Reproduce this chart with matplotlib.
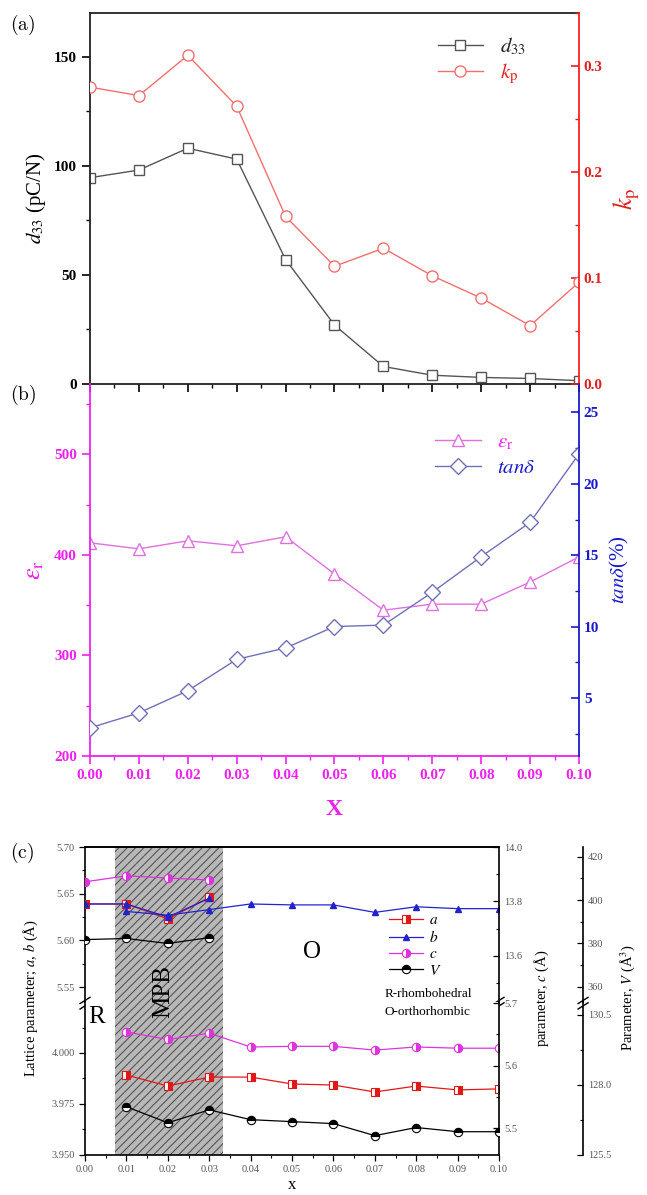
import matplotlib
matplotlib.use('Agg')
import matplotlib.pyplot as plt
from matplotlib.ticker import MultipleLocator, FixedLocator, FormatStrFormatter

plt.rcParams['font.family'] = ['Liberation Serif', 'DejaVu Serif']
plt.rcParams['mathtext.fontset'] = 'stix'
plt.rcParams['hatch.linewidth'] = 0.8

# ---- data ----
x = [0.00, 0.01, 0.02, 0.03, 0.04, 0.05, 0.06, 0.07, 0.08, 0.09, 0.10]
d33 = [94.5, 98, 108, 103, 57, 27, 8, 4, 3, 2.5, 1.5]
kp = [0.280, 0.272, 0.310, 0.262, 0.158, 0.111, 0.128, 0.102, 0.081, 0.055, 0.096]
eps_r = [412, 406, 414, 409, 418, 381, 345, 351, 351, 373, 398]
tan_d = [2.9, 3.95, 5.5, 7.7, 8.5, 10.0, 10.1, 12.4, 14.9, 17.3, 22.1]

# lattice parameters, R phase (upper part) and O phase (lower part)
x_R = [0.00, 0.01, 0.02, 0.03]
a_R = [5.639, 5.639, 5.623, 5.646]
b_R = [5.639, 5.639, 5.625, 5.645]
c_R = [13.872, 13.894, 13.886, 13.879]
V_R = [381.8, 382.3, 380.0, 382.7]

x_O = [0.01, 0.02, 0.03, 0.04, 0.05, 0.06, 0.07, 0.08, 0.09, 0.10]
a_O = [3.9892, 3.9838, 3.9882, 3.9882, 3.9848, 3.9843, 3.9809, 3.9838, 3.9819, 3.9824]
b_O = [5.631, 5.627, 5.633, 5.639, 5.638, 5.638, 5.630, 5.636, 5.634, 5.634]
c_O = [5.654, 5.642, 5.652, 5.630, 5.631, 5.631, 5.625, 5.630, 5.628, 5.628]
V_O = [127.22, 126.65, 127.11, 126.76, 126.69, 126.62, 126.19, 126.48, 126.33, 126.33]

mpb = (0.0072, 0.0333)

fig = plt.figure(figsize=(6.47, 11.95), dpi=100)

# ---------------- panel (a) ----------------
ax_a = fig.add_axes([0.1391, 0.6787, 0.7558, 0.3105])
ax_k = ax_a.twinx()
l1, = ax_a.plot(x, d33, '-s', color='#555555', mfc='white', ms=7, lw=1, label='$d_{33}$')
l2, = ax_k.plot(x, kp, '-o', color='#f07070', mfc='white', ms=8, lw=1, label='$k_\\mathrm{p}$')
ax_a.set_xlim(0, 0.10)
ax_a.set_ylim(0, 170)
ax_k.set_ylim(0, 0.35)
ax_a.xaxis.set_major_locator(MultipleLocator(0.01))
ax_a.xaxis.set_minor_locator(MultipleLocator(0.005))
ax_a.yaxis.set_major_locator(MultipleLocator(50))
ax_a.yaxis.set_minor_locator(MultipleLocator(25))
ax_k.yaxis.set_major_locator(MultipleLocator(0.1))
ax_k.yaxis.set_minor_locator(MultipleLocator(0.05))
ax_a.tick_params(axis='x', labelbottom=False, direction='out', length=6, width=1.2)
ax_a.tick_params(axis='x', which='minor', direction='out', length=3, width=1)
ax_a.tick_params(axis='y', which='major', direction='out', length=6, width=1.2, labelsize=11)
ax_a.tick_params(axis='y', which='minor', direction='out', length=3, width=1)
ax_k.tick_params(axis='y', which='major', direction='in', length=6, width=1.2, labelsize=11,
                 colors='#e02020')
ax_k.tick_params(axis='y', which='minor', direction='in', length=3, width=1, colors='#e02020')
for lab in ax_a.get_yticklabels() + ax_k.get_yticklabels():
    lab.set_fontweight('bold')
ax_a.spines['right'].set_visible(False)
for s in ['left', 'top', 'bottom']:
    ax_a.spines[s].set_linewidth(1.3)
    ax_a.spines[s].set_color('#222222')
ax_k.spines['right'].set_color('#ff2020')
ax_k.spines['right'].set_linewidth(1.3)
ax_k.spines['left'].set_visible(False)
ax_k.spines['top'].set_visible(False)
ax_k.spines['bottom'].set_visible(False)
ax_a.set_ylabel('$d_{33}$ (pC/N)', fontsize=15, labelpad=4)
ax_k.set_ylabel('$k_\\mathrm{p}$', fontsize=19, color='#e02020', labelpad=6)
leg = ax_a.legend(handles=[l1, l2], loc='upper right', bbox_to_anchor=(0.93, 0.99),
                  frameon=False, fontsize=15, handlelength=2.2, labelspacing=0.25)
for t, c in zip(leg.get_texts(), ['#222222', '#e02020']):
    t.set_color(c)
fig.text(0.015, 0.975, '$\\mathrm{(a)}$', fontsize=14, math_fontfamily='cm')

# ---------------- panel (b) ----------------
ax_b = fig.add_axes([0.1391, 0.3674, 0.7558, 0.3113])
ax_b.patch.set_visible(False)
ax_t = ax_b.twinx()
mag = '#ee22ee'
blu = '#1a1acc'
l3, = ax_b.plot(x, eps_r, '-^', color='#e070e0', mfc='white', ms=9, lw=1,
                label='$\\varepsilon_\\mathrm{r}$')
l4, = ax_t.plot(x, tan_d, '-D', color='#7070b8', mfc='white', ms=8, lw=1,
                label='$tan\\delta$')
ax_b.set_xlim(0, 0.10)
ax_b.set_ylim(200, 570)
ax_t.set_ylim(0.93, 27.0)
ax_b.xaxis.set_major_locator(MultipleLocator(0.01))
ax_b.xaxis.set_minor_locator(MultipleLocator(0.005))
ax_b.xaxis.set_major_formatter(FormatStrFormatter('%.2f'))
ax_b.yaxis.set_major_locator(MultipleLocator(100))
ax_b.yaxis.set_minor_locator(MultipleLocator(50))
ax_t.yaxis.set_major_locator(MultipleLocator(5))
ax_t.yaxis.set_minor_locator(MultipleLocator(2.5))
ax_b.tick_params(axis='both', which='major', direction='out', length=6, width=1.2,
                 labelsize=11, colors=mag)
ax_b.tick_params(axis='both', which='minor', direction='out', length=3, width=1, colors=mag)
ax_t.tick_params(axis='y', which='major', direction='in', length=6, width=1.2,
                 labelsize=11, colors=blu)
ax_t.tick_params(axis='y', which='minor', direction='in', length=3, width=1, colors=blu)
for lab in ax_b.get_yticklabels() + ax_b.get_xticklabels() + ax_t.get_yticklabels():
    lab.set_fontweight('bold')
ax_b.spines['top'].set_visible(False)
ax_b.spines['right'].set_visible(False)
ax_b.spines['left'].set_color(mag)
ax_b.spines['bottom'].set_color(mag)
ax_b.spines['left'].set_linewidth(1.3)
ax_b.spines['bottom'].set_linewidth(1.3)
for s in ['left', 'top', 'bottom']:
    ax_t.spines[s].set_visible(False)
ax_t.spines['right'].set_color(blu)
ax_t.spines['right'].set_linewidth(1.3)
ax_b.set_ylabel('$\\varepsilon_\\mathrm{r}$', fontsize=19, color=mag, labelpad=6)
ax_t.set_ylabel('$tan\\delta$(%)', fontsize=15, color=blu, labelpad=6)
ax_b.set_xlabel('X', fontsize=17, color=mag, fontweight='bold', labelpad=12)
leg = ax_b.legend(handles=[l3, l4], loc='upper right', bbox_to_anchor=(0.95, 0.92),
                  frameon=False, fontsize=15, handlelength=2.2, labelspacing=0.3)
for t, c in zip(leg.get_texts(), [mag, blu]):
    t.set_color(c)
fig.text(0.015, 0.665, '$\\mathrm{(b)}$', fontsize=14, math_fontfamily='cm')

# ---------------- panel (c) ----------------
ax_u = fig.add_axes([0.1314, 0.1615, 0.6399, 0.1297])
ax_l = fig.add_axes([0.1314, 0.0335, 0.6399, 0.1280])
ax_uc = ax_u.twinx()
ax_uV = ax_u.twinx()
ax_lc = ax_l.twinx()
ax_lV = ax_l.twinx()

for ax in (ax_u, ax_l):
    ax.axvspan(mpb[0], mpb[1], facecolor='#b8b8b8', edgecolor='#555555', hatch='////',
               lw=0, zorder=0)
    ax.set_xlim(0, 0.10)
    ax.xaxis.set_major_locator(MultipleLocator(0.01))
    ax.xaxis.set_minor_locator(MultipleLocator(0.005))

red = '#e01818'
blue3 = '#2222cc'
mag3 = '#dd33dd'
kw = dict(lw=0.9, ms=6, markeredgewidth=0.8)
ha, = ax_u.plot(x_R, a_R, '-s', color=red, mfc=red, mfcalt='white', fillstyle='right',
                label='$a$', zorder=3, **kw)
ax_u.plot(x_R, b_R, '-^', color=blue3, mfc=blue3, ms=4, lw=0.9, zorder=3)
hb, = ax_u.plot(x_O, b_O, '-^', color=blue3, mfc=blue3, ms=4, lw=0.9, label='$b$', zorder=3)
hc, = ax_uc.plot(x_R, c_R, '-o', color=mag3, mfc=mag3, mfcalt='white', fillstyle='right',
                 label='$c$', **kw)
hV, = ax_uV.plot(x_R, V_R, '-o', color='black', mfc='black', mfcalt='white',
                 fillstyle='top', label='$V$', **kw)
ax_l.plot(x_O, a_O, '-s', color=red, mfc=red, mfcalt='white', fillstyle='right',
          zorder=3, **kw)
ax_lc.plot(x_O, c_O, '-o', color=mag3, mfc=mag3, mfcalt='white', fillstyle='right', **kw)
ax_lV.plot(x_O, V_O, '-o', color='black', mfc='black', mfcalt='white', fillstyle='top', **kw)

ax_u.set_ylim(5.534, 5.70)
ax_uc.set_ylim(13.43, 14.0)
ax_uV.set_ylim(353, 424.5)
ax_l.set_ylim(3.950, 4.025)
ax_lc.set_ylim(5.457, 5.702)
ax_lV.set_ylim(125.5, 130.96)

ax_u.yaxis.set_major_locator(MultipleLocator(0.05))
ax_u.yaxis.set_minor_locator(MultipleLocator(0.025))
ax_u.yaxis.set_major_formatter(FormatStrFormatter('%.2f'))
ax_l.yaxis.set_major_locator(FixedLocator([3.950, 3.975, 4.000]))
ax_l.yaxis.set_minor_locator(FixedLocator([3.9625, 3.9875, 4.0125]))
ax_l.yaxis.set_major_formatter(FormatStrFormatter('%.3f'))
ax_l.xaxis.set_major_formatter(FormatStrFormatter('%.2f'))
ax_uc.yaxis.set_major_locator(MultipleLocator(0.2))
ax_uc.yaxis.set_minor_locator(MultipleLocator(0.1))
ax_uc.yaxis.set_major_formatter(FormatStrFormatter('%.1f'))
ax_lc.yaxis.set_major_locator(MultipleLocator(0.1))
ax_lc.yaxis.set_minor_locator(MultipleLocator(0.05))
ax_lc.yaxis.set_major_formatter(FormatStrFormatter('%.1f'))
ax_uV.yaxis.set_major_locator(MultipleLocator(20))
ax_uV.yaxis.set_minor_locator(MultipleLocator(10))
ax_lV.yaxis.set_major_locator(FixedLocator([125.5, 128.0, 130.5]))
ax_lV.yaxis.set_minor_locator(FixedLocator([126.75, 129.25]))
ax_lV.yaxis.set_major_formatter(FormatStrFormatter('%.1f'))

tcol = '#555555'
for ax in (ax_u, ax_l):
    ax.tick_params(which='major', direction='out', length=4, width=0.9, labelsize=7.5,
                   labelcolor=tcol)
    ax.tick_params(which='minor', direction='out', length=2, width=0.8)
ax_u.tick_params(axis='x', which='both', bottom=False, labelbottom=False)
for ax in (ax_uc, ax_lc, ax_uV, ax_lV):
    ax.tick_params(which='major', direction='in', length=4, width=0.9, labelsize=7.5,
                   labelcolor=tcol)
    ax.tick_params(which='minor', direction='in', length=2, width=0.8)

ax_u.spines['bottom'].set_visible(False)
ax_l.spines['top'].set_visible(False)
for ax in (ax_uc, ax_lc, ax_uV, ax_lV):
    ax.spines['left'].set_visible(False)
    ax.spines['top'].set_visible(False)
    ax.spines['bottom'].set_visible(False)
ax_u.spines['right'].set_visible(False)
ax_l.spines['right'].set_visible(False)
for ax in (ax_uV, ax_lV):
    ax.spines['right'].set_position(('axes', 1.203))
    ax.spines['right'].set_linewidth(1.2)
ax_uc.spines['top'].set_visible(True)
ax_uc.spines['top'].set_linewidth(1.2)
for ax in (ax_u, ax_l, ax_uc, ax_lc):
    for s in ax.spines.values():
        s.set_linewidth(1.2)

# axis break marks
for xb in (0.0, 1.0, 1.203):
    for dy in (-0.025, 0.01):
        ax_u.plot([xb - 0.012, xb + 0.012], [dy - 0.02, dy + 0.02], color='black', lw=1,
                  transform=ax_u.transAxes, clip_on=False, zorder=5)

ax_l.set_xlabel('x', fontsize=12, labelpad=2)
fig.text(0.048, 0.165, 'Lattice parameter; $a$, $b$ (Å)', rotation=90, fontsize=10.5,
         ha='center', va='center')
fig.text(0.838, 0.165, 'parameter, $c$ (Å)', rotation=90, fontsize=10.5,
         ha='center', va='center')
fig.text(0.970, 0.165, 'Parameter, $V$ (Å$^3$)', rotation=90, fontsize=10.5,
         ha='center', va='center')

fig.text(0.252, 0.170, 'MPB', rotation=90, fontsize=18, ha='center', va='center')
fig.text(0.150, 0.149, 'R', fontsize=18, ha='center', va='center')
fig.text(0.482, 0.203, 'O', fontsize=18, ha='center', va='center')
fig.text(0.015, 0.282, '$\\mathrm{(c)}$', fontsize=14, math_fontfamily='cm')

fig.legend(handles=[ha, hb, hc, hV], loc='upper left', bbox_to_anchor=(0.59, 0.242),
           frameon=False, fontsize=11, handlelength=2.2, labelspacing=0.15,
           borderpad=0, handletextpad=0.4)
fig.text(0.595, 0.168, 'R-rhombohedral', fontsize=9.5, va='center')
fig.text(0.595, 0.153, 'O-orthorhombic', fontsize=9.5, va='center')

fig.savefig('out.png', dpi=100)
